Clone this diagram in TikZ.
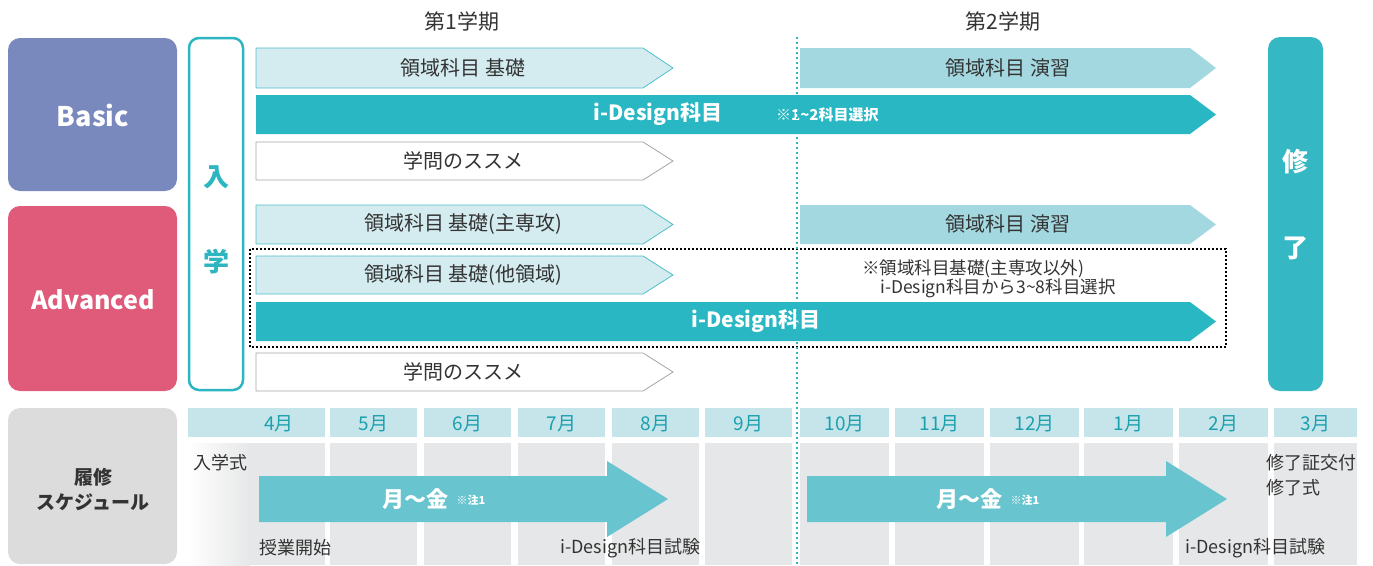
\documentclass[tikz,border=0pt]{standalone}
\usepackage{fontspec}
\setmainfont{Noto Sans CJK JP}
\definecolor{basicc}{HTML}{7A89BD}
\definecolor{advc}{HTML}{E05B79}
\definecolor{tealc}{HTML}{2DB5C1}
\definecolor{idc}{HTML}{29B7C3}
\definecolor{lightc}{HTML}{D4ECF0}
\definecolor{lightb}{HTML}{4FBFCA}
\definecolor{enshu}{HTML}{A3D8E0}
\definecolor{grayb}{HTML}{A5A5A5}
\definecolor{shuc}{HTML}{35B8C4}
\definecolor{hdrc}{HTML}{C6E5EB}
\definecolor{monc}{HTML}{1BA0AE}
\definecolor{bodyc}{HTML}{E6E7E8}
\definecolor{rishuc}{HTML}{DCDCDD}
\definecolor{schc}{HTML}{68C4CE}
\definecolor{txtc}{HTML}{333333}
\newcommand\pent[6]{\path[#6] (#1,#3) -- ({#2-#5},#3) -- (#2,{(#3+#4)/2}) -- ({#2-#5},#4) -- (#1,#4) -- cycle;}
\newcommand\fsz[1]{\fontsize{#1}{#1}\selectfont}
\tikzset{
  lbl/.style={text=txtc, font=\fsz{20}, inner sep=0pt},
  wlbl/.style={text=white, font=\bfseries\fsz{21}, inner sep=0pt},
  big/.style={font=\bfseries\fsz{26}, inner sep=0pt},
  mon/.style={text=monc, font=\fsz{19}, inner sep=0pt},
  slbl/.style={text=txtc, font=\fsz{18}, inner sep=0pt},
  nlbl/.style={text=txtc, font=\fsz{17.5}, inner sep=0pt, anchor=west},
  lightarrow/.style={fill=lightc, draw=lightb, line width=0.8pt},
  enshuarrow/.style={fill=enshu},
  idarrow/.style={fill=idc},
  whitearrow/.style={fill=white, draw=grayb, line width=0.8pt},
}
\begin{document}
\begin{tikzpicture}[x=1pt,y=-1pt]
\useasboundingbox (0,0) rectangle (1373,565);
% left category boxes
\fill[basicc, rounded corners=12pt] (8,38) rectangle (177,191);
\node[big, text=white, font=\bfseries\fsz{27}] (basic) at (93,115) {Basic};
\fill[advc, rounded corners=12pt] (8,206) rectangle (177,391);
\node[big, text=white, font=\bfseries\fsz{25}] (adv) at (93,300) {Advanced};
% entrance box
\draw[tealc, line width=2.5pt, rounded corners=10pt] (189,38) rectangle (243,390);
\node[big, text=tealc] (nyu) at (216,177) {入};
\node[big, text=tealc] (gaku) at (216,262) {学};
% completion box
\fill[shuc, rounded corners=12pt] (1268,37) rectangle (1323,391);
\node[big, text=white] (shu) at (1295,162) {修};
\node[big, text=white] (ryo) at (1295,248) {了};
% term titles
\node[text=txtc, font=\fsz{21}, inner sep=0pt] (t1) at (462,22) {第1学期};
\node[text=txtc, font=\fsz{21}, inner sep=0pt] (t2) at (1003,22) {第2学期};
% Basic rows
\pent{256}{673}{48}{88}{30}{lightarrow}
\node[lbl] (b1) at (463,68) {領域科目 基礎};
\pent{800}{1216}{48}{88}{26}{enshuarrow}
\node[lbl] (b2) at (1008,68) {領域科目 演習};
\pent{256}{1216}{95}{134}{26}{idarrow}
\node[wlbl] (b3) at (658,114) {i-Design科目};
\node[text=white, font=\bfseries\fsz{15}, inner sep=0pt, anchor=west] (b3n) at (776,115) {※1\textasciitilde 2科目選択};
\pent{256}{673}{142}{180}{30}{whitearrow}
\node[lbl] (b4) at (463,161) {学問のススメ};
% Advanced rows
\pent{256}{673}{205}{244}{30}{lightarrow}
\node[lbl] (a1) at (463,224) {領域科目 基礎(主専攻)};
\pent{800}{1216}{205}{244}{26}{enshuarrow}
\node[lbl] (a2) at (1008,224) {領域科目 演習};
\pent{256}{673}{256}{294}{30}{lightarrow}
\node[lbl] (a3) at (463,275) {領域科目 基礎(他領域)};
\pent{256}{1216}{302}{341}{26}{idarrow}
\node[wlbl] (a4) at (756,321) {i-Design科目};
\pent{256}{673}{353}{391}{30}{whitearrow}
\node[lbl] (a5) at (463,372) {学問のススメ};
\node[nlbl] (n1) at (862,269) {※領域科目基礎(主専攻以外)};
\node[nlbl] (n2) at (880,288) {i-Design科目から3\textasciitilde 8科目選択};
\draw[black, line width=2pt, dash pattern=on 2pt off 2pt] (250,249) rectangle (1226,347);
% schedule
\fill[rishuc, rounded corners=12pt] (8,408) rectangle (177,564);
\node[text=txtc, font=\bfseries\fsz{19}, inner sep=0pt, align=center] (rishu) at (93,489) {履修\\[6pt]スケジュール};
\fill[hdrc] (188,408) rectangle (325,437);
\fill[left color=white, right color=bodyc] (188,443) rectangle (250,565);
\fill[bodyc] (249.5,443) rectangle (325,565);
\node[mon] (m4) at (279,424) {4月};
\foreach \a/\b/\m in {330/417/5,424/511/6,518/605/7,612/699/8,705/792/9,800/889/10,895/984/11,990/1079/12,1084/1173/1,1179/1268/2,1274/1357/3}{
  \fill[hdrc] (\a,408) rectangle (\b,437);
  \fill[bodyc] (\a,443) rectangle (\b,565);
  \node[mon] (m\m) at ({(\a+\b)/2},424) {\m 月};
}
% vertical dotted term line
\draw[tealc, line width=2.2pt, dash pattern=on 2pt off 3pt] (797,37) -- (797,565);
% schedule arrows
\fill[schc] (259,476) -- (607,476) -- (607,461) -- (668,499) -- (607,537) -- (607,522) -- (259,522) -- cycle;
\node[text=white, font=\bfseries\fsz{22}, inner sep=0pt] (s1) at (415,499) {月～金};
\node[text=white, font=\bfseries\fsz{11}, inner sep=0pt] (s1n) at (471,500) {※注1};
\fill[schc] (807,476) -- (1166,476) -- (1166,461) -- (1227,499) -- (1166,537) -- (1166,522) -- (807,522) -- cycle;
\node[text=white, font=\bfseries\fsz{22}, inner sep=0pt] (s2) at (969,499) {月～金};
\node[text=white, font=\bfseries\fsz{11}, inner sep=0pt] (s2n) at (1025,500) {※注1};
% schedule labels
\node[slbl, anchor=west] (l1) at (193,463) {入学式};
\node[slbl, anchor=west] (l2) at (259,548) {授業開始};
\node[slbl, anchor=west] (l3) at (560,548) {i-Design科目試験};
\node[slbl, anchor=west] (l4) at (1185,548) {i-Design科目試験};
\node[slbl, anchor=west] (l5) at (1266,463) {修了証交付};
\node[slbl, anchor=west] (l6) at (1266,488) {修了式};
\end{tikzpicture}
\end{document}
